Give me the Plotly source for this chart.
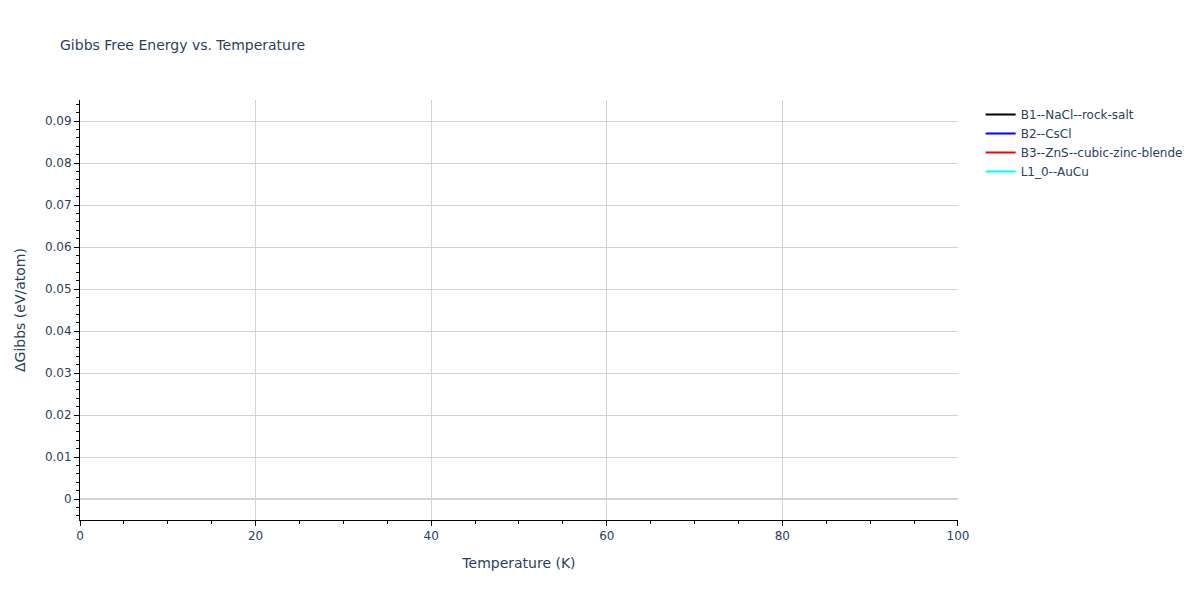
import plotly.graph_objects as go

# Structures in the legend; none of their points fall inside the plotted window
structures = ['B1--NaCl--rock-salt', 'B2--CsCl', 'B3--ZnS--cubic-zinc-blende', 'L1_0--AuCu']
colors = ['black', 'blue', 'red', 'cyan']
temperatures = [0, 100]
delta_gibbs = {name: [None, None] for name in structures}

x_range = [0, 100]
y_range = [-0.005, 0.095]

fig = go.Figure()
for name, color in zip(structures, colors):
    fig.add_trace(go.Scatter(x=temperatures, y=delta_gibbs[name], mode='lines',
                             name=name, line=dict(color=color)))

fig.update_layout(
    template='plotly',
    title=dict(text='Gibbs Free Energy vs. Temperature', font=dict(size=14)),
    xaxis_title='Temperature (K)',
    yaxis_title='ΔGibbs (eV/atom)',
    font=dict(family='Verdana, DejaVu Sans, sans-serif'),
    plot_bgcolor='white',
    paper_bgcolor='white',
    width=1200, height=600,
    showlegend=True,
)
fig.update_xaxes(range=x_range, showline=True, linecolor='black', ticks='outside',
                 tickcolor='black', dtick=20, zeroline=False, gridcolor='lightgray',
                 domain=[0, 0.9943],
                 minor=dict(ticks='outside', dtick=5, tickcolor='black'))
fig.update_yaxes(range=y_range, showline=True, linecolor='black', ticks='outside',
                 tickcolor='black', dtick=0.01, zeroline=True, zerolinecolor='lightgray',
                 gridcolor='lightgray',
                 minor=dict(ticks='outside', dtick=0.002, tickcolor='black'))

fig.write_html("out.html", config={'displayModeBar': False},
               post_script="document.body.style.margin = '0';")
